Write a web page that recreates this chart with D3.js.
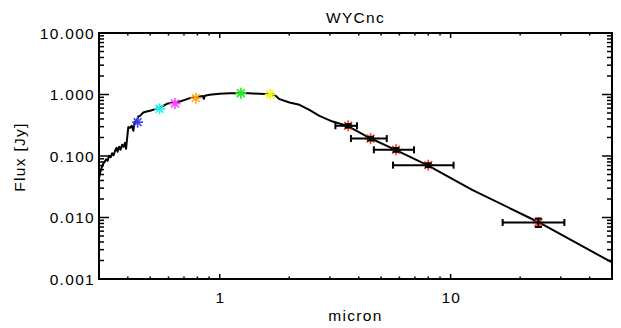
<!DOCTYPE html>
<html>
<head>
<meta charset="utf-8">
<script src="https://cdn.jsdelivr.net/npm/d3@7"></script>
<style>
  body { margin: 0; background: #fff; }
  text { font-family: "Liberation Sans", Arial, sans-serif; fill: #000; }
</style>
</head>
<body>
<div id="chart"></div>
<script>
// model spectrum (micron, Jy)
const specLam = [0.3004, 0.3034, 0.3080, 0.3126, 0.3173, 0.3221, 0.3269, 0.3319, 0.3368, 0.3419,
  0.3470, 0.3522, 0.3575, 0.3610, 0.3664, 0.3719, 0.3776, 0.3832, 0.3890, 0.3929,
  0.3968, 0.4019, 0.4088, 0.4158, 0.4225,
  0.4267, 0.4297, 0.4383, 0.4440, 0.4515, 0.4666, 0.4828, 0.4988, 0.5153, 0.5416,
  0.5693, 0.5903, 0.6083, 0.6392, 0.6720, 0.7064, 0.7420, 0.7800, 0.8197, 0.8446,
  0.8532, 0.8617, 0.9053, 1.0, 1.105, 1.220, 1.348, 1.488, 1.644, 1.727,
  1.815, 2.005, 2.214, 2.445, 2.702, 3.083, 3.605, 4.471, 5.768, 7.925,
  12.40, 23.82, 50.0];
const specFlux = [0.0442, 0.0533, 0.0643, 0.0746, 0.0805, 0.0884, 0.0835, 0.1007, 0.0953, 0.1106,
  0.1027, 0.1215, 0.1359, 0.1170, 0.1411, 0.1261, 0.1521, 0.1411, 0.1638, 0.1309,
  0.1903, 0.2950, 0.2872, 0.3097, 0.2567,
  0.3336, 0.3635, 0.3802, 0.4385, 0.4498, 0.5090, 0.5283, 0.5422, 0.5634, 0.5998,
  0.6545, 0.7049, 0.7236, 0.7456, 0.7683, 0.8187, 0.8724, 0.8990, 0.9262, 0.9437,
  0.8501, 0.9508, 0.9870, 1.025, 1.044, 1.052, 1.044, 1.025, 1.006, 0.987,
  0.840, 0.740, 0.679, 0.563, 0.450, 0.363, 0.304, 0.196, 0.126, 0.0712,
  0.0282, 0.00853, 0.00186];

// optical / near-IR photometry
const optLam = [0.441, 0.549, 0.640, 0.788, 1.235, 1.655];
const optFlux = [0.355, 0.585, 0.713, 0.872, 1.05, 1.00];
const optColor = ["#3c3cff", "#19f0f0", "#ff46ff", "#ffa519", "#19f019", "#f5f519"];

// mid-IR photometry with band widths and errors
const irLam = [3.6, 4.5, 5.8, 8.0, 24.0];
const irFlux = [0.31, 0.192, 0.126, 0.071, 0.0083];
const irLamLo = [3.17, 3.70, 4.65, 5.63, 16.8];
const irLamHi = [3.93, 5.29, 6.94, 10.3, 31.1];
const irErr = [0.02, 0.013, 0.009, 0.005, 0.0013];

const xMajor = [1, 10];
const xTickLabels = ["1", "10"];
const yMajor = [0.001, 0.01, 0.1, 1, 10];
const yTickLabels = ["0.001", "0.010", "0.100", "1.000", "10.000"];

const width = 621, height = 328;
const pl = 99, pr = 612, pt = 33, pb = 279;

const svg = d3.select('#chart').append('svg')
  .attr('width', width)
  .attr('height', height);

const x = d3.scaleLog().domain([0.3, 50]).range([pl, pr]);
const y = d3.scaleLog().domain([0.001, 10]).range([pb, pt]);

const xMinor = [];
[0.1, 1, 10].forEach(d => { for (let k = 2; k <= 9; k++) xMinor.push(d * k); });
const xMinorIn = xMinor.filter(v => v > 0.3 && v < 50);
const yMinor = [];
[0.001, 0.01, 0.1, 1].forEach(d => { for (let k = 2; k <= 9; k++) yMinor.push(d * k); });

svg.append('clipPath').attr('id', 'clip')
  .append('rect').attr('x', pl).attr('y', pt)
  .attr('width', pr - pl).attr('height', pb - pt);

const plot = svg.append('g').attr('clip-path', 'url(#clip)');

// spectrum
const line = d3.line()
  .x((d, i) => x(specLam[i]))
  .y((d, i) => y(specFlux[i]));

plot.append('path')
  .datum(specLam)
  .attr('d', line)
  .attr('fill', 'none')
  .attr('stroke', '#000')
  .attr('stroke-width', 2)
  .attr('stroke-linejoin', 'round');

function star(g, cx, cy, r, color) {
  for (let a = 0; a < 4; a++) {
    const t = a * Math.PI / 4;
    g.append('line')
      .attr('x1', cx - r * Math.cos(t)).attr('y1', cy - r * Math.sin(t))
      .attr('x2', cx + r * Math.cos(t)).attr('y2', cy + r * Math.sin(t))
      .attr('stroke', color).attr('stroke-width', 1.6);
  }
}

optLam.forEach((l, i) => star(plot, x(l), y(optFlux[i]), 5.5, optColor[i]));

// mid-IR: red asterisks under black error bars
irLam.forEach((l, i) => star(plot, x(l), y(irFlux[i]), 5.5, '#ff3c1e'));

const eb = plot.append('g').attr('stroke', '#000').attr('stroke-width', 2);
irLam.forEach((l, i) => {
  const cy = y(irFlux[i]);
  const cx = x(l);
  eb.append('line').attr('x1', x(irLamLo[i])).attr('x2', x(irLamHi[i])).attr('y1', cy).attr('y2', cy);
  eb.append('line').attr('x1', x(irLamLo[i])).attr('x2', x(irLamLo[i])).attr('y1', cy - 3.5).attr('y2', cy + 3.5);
  eb.append('line').attr('x1', x(irLamHi[i])).attr('x2', x(irLamHi[i])).attr('y1', cy - 3.5).attr('y2', cy + 3.5);
  const y1 = y(irFlux[i] + irErr[i]), y2 = y(irFlux[i] - irErr[i]);
  eb.append('line').attr('x1', cx).attr('x2', cx).attr('y1', y1).attr('y2', y2);
  eb.append('line').attr('x1', cx - 3.5).attr('x2', cx + 3.5).attr('y1', y1).attr('y2', y1);
  eb.append('line').attr('x1', cx - 3.5).attr('x2', cx + 3.5).attr('y1', y2).attr('y2', y2);
});

// frame and ticks
const axes = svg.append('g').attr('stroke', '#000').attr('stroke-width', 1.5);
axes.append('rect')
  .attr('x', pl).attr('y', pt)
  .attr('width', pr - pl).attr('height', pb - pt)
  .attr('fill', 'none').attr('stroke-width', 2);

const xTick = (v, len) => {
  axes.append('line').attr('x1', x(v)).attr('x2', x(v)).attr('y1', pb).attr('y2', pb - len);
  axes.append('line').attr('x1', x(v)).attr('x2', x(v)).attr('y1', pt).attr('y2', pt + len);
};
xMajor.forEach(v => xTick(v, 5));
xMinorIn.forEach(v => xTick(v, 2.5));

const yTick = (v, len) => {
  axes.append('line').attr('y1', y(v)).attr('y2', y(v)).attr('x1', pl).attr('x2', pl + len);
  axes.append('line').attr('y1', y(v)).attr('y2', y(v)).attr('x1', pr).attr('x2', pr - len);
};
yMajor.forEach(v => yTick(v, 10));
yMinor.forEach(v => yTick(v, 5));

// labels
const lab = svg.append('g').style('font-size', '15.5px').style('letter-spacing', '1.3px');

xMajor.forEach((v, i) => {
  lab.append('text').attr('x', x(v) + 0.7).attr('y', 303)
    .attr('text-anchor', 'middle').text(xTickLabels[i]);
});
yMajor.forEach((v, i) => {
  lab.append('text').attr('x', 95).attr('y', y(v) + 5.5)
    .attr('text-anchor', 'end').text(yTickLabels[i]);
});

lab.append('text').attr('x', (pl + pr) / 2).attr('y', 321)
  .attr('text-anchor', 'middle').text('micron');
lab.append('text').attr('x', (pl + pr) / 2).attr('y', 23)
  .attr('text-anchor', 'middle').text('WYCnc');
lab.append('text')
  .attr('transform', 'translate(25,157) rotate(-90)')
  .attr('text-anchor', 'middle').text('Flux [Jy]');
</script>
</body>
</html>
